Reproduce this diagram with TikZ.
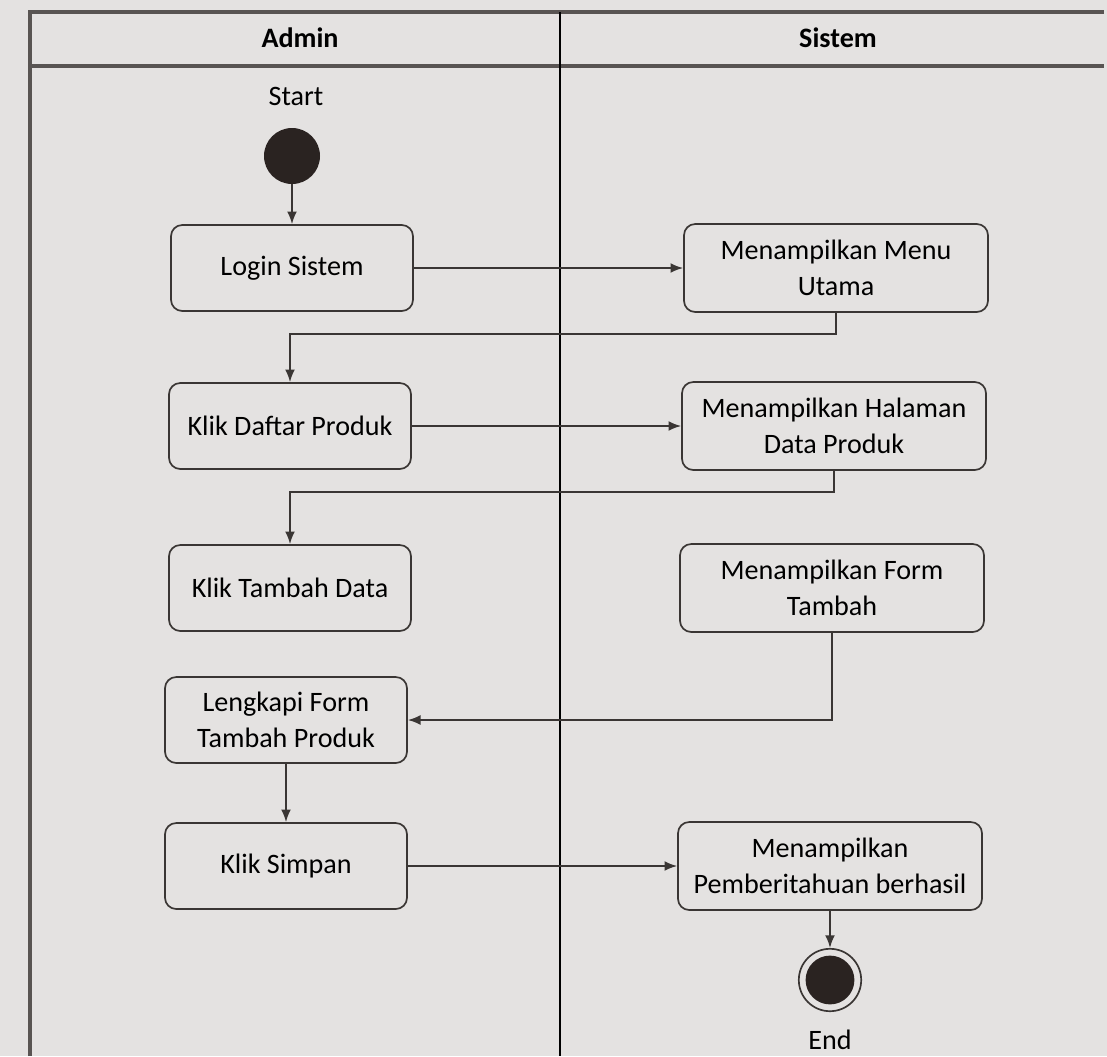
\documentclass[tikz,border=0pt]{standalone}
\usepackage{fontspec}
\setmainfont{Carlito}
\usepackage{tikz}
\usetikzlibrary{positioning,shapes,arrows.meta}
\definecolor{paper}{HTML}{E4E2E1}
\definecolor{ink}{HTML}{3A3634}
\definecolor{blob}{HTML}{2A2321}
\tikzset{
  act/.style={draw=ink,line width=1.2pt,rounded corners=8pt,align=center,
    minimum width=6.05cm,minimum height=2.15cm,inner sep=2pt,
    font=\fontsize{20}{25.5}\selectfont},
  sysact/.style={act,minimum width=7.6cm,minimum height=2.2cm},
  flow/.style={draw=ink,line width=1.2pt,-{Latex[length=9pt,width=7pt]}},
  lane/.style={line width=2.2pt,draw=ink!85}
}
\begin{document}
\begin{tikzpicture}
  \useasboundingbox[fill=paper] (0,0) rectangle (27.675,-26.4);
  % swimlanes
  \draw[lane] (0.75,-26.4) -- (0.75,-0.3) -- (27.6,-0.3);
  \draw[lane] (0.75,-1.65) -- (27.6,-1.65);
  \draw[line width=1pt,black] (14.0,-0.3) -- (14.0,-26.4);
  \node[font=\fontsize{20}{24}\selectfont\bfseries] (admin) at (7.5,-0.95) {Admin};
  \node[font=\fontsize{20}{24}\selectfont\bfseries] (sistem) at (20.95,-0.95) {Sistem};
  % start / end
  \node[font=\fontsize{20}{24}\selectfont] (startlbl) at (7.4,-2.4) {Start};
  \node[circle,fill=blob,minimum size=1.4cm,inner sep=0pt] (start) at (7.3,-3.9) {};
  \node[circle,draw=ink,line width=1.2pt,minimum size=1.56cm,inner sep=0pt] (end) at (20.75,-24.5) {};
  \node[circle,fill=blob,minimum size=1.22cm,inner sep=0pt] (endin) at (end) {};
  \node[font=\fontsize{20}{24}\selectfont] (endlbl) at (20.75,-26.0) {End};
  % admin activities
  \node[act] (login) at (7.3,-6.7) {Login Sistem};
  \node[act] (daftar) at (7.25,-10.65) {Klik Daftar Produk};
  \node[act] (tambah) at (7.25,-14.7) {Klik Tambah Data};
  \node[act] (lengkapi) at (7.15,-18.0) {Lengkapi Form\\Tambah Produk};
  \node[act] (simpan) at (7.15,-21.65) {Klik Simpan};
  % sistem activities
  \node[sysact] (menu) at (20.9,-6.7) {Menampilkan Menu\\Utama};
  \node[sysact] (halaman) at (20.85,-10.65) {Menampilkan Halaman\\Data Produk};
  \node[sysact] (form) at (20.8,-14.7) {Menampilkan Form\\Tambah};
  \node[sysact] (berhasil) at (20.75,-21.65) {Menampilkan\\Pemberitahuan berhasil};
  % flows
  \coordinate (bend1) at (20.9,-8.35);
  \coordinate (bend2) at (20.85,-12.3);
  \draw[flow] (start) -- (login);
  \draw[flow] (login) -- (menu);
  \draw[flow] (menu.south) -- (bend1) -| (daftar.north);
  \draw[flow] (daftar) -- (halaman);
  \draw[flow] (halaman.south) -- (bend2) -| (tambah.north);
  \draw[flow] (form.south) |- (lengkapi.east);
  \draw[flow] (lengkapi) -- (simpan);
  \draw[flow] (simpan) -- (berhasil);
  \draw[flow] (berhasil) -- (end);
\end{tikzpicture}
\end{document}
